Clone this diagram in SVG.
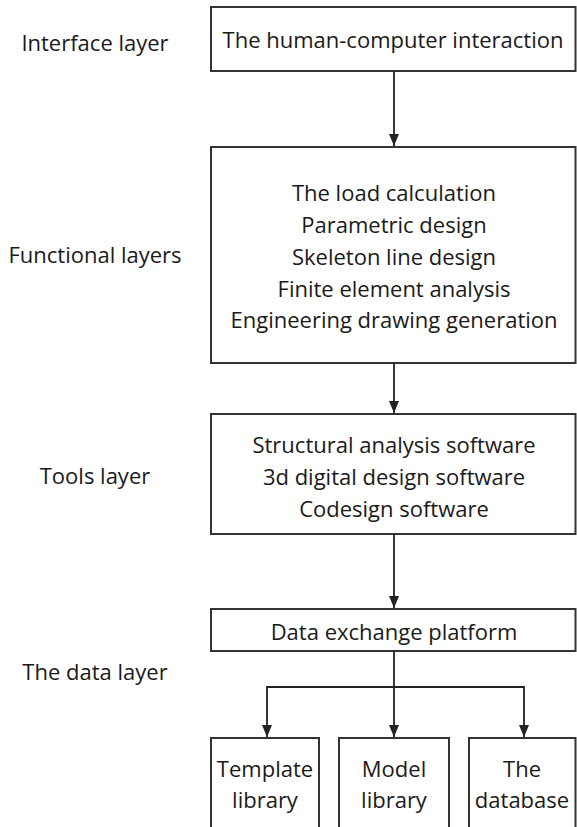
<svg xmlns="http://www.w3.org/2000/svg" width="577" height="827" viewBox="0 0 577 827">
<defs>
<marker id="ah" markerWidth="12" markerHeight="10" refX="12" refY="5" orient="auto" markerUnits="userSpaceOnUse" viewBox="0 0 12 10">
<path d="M0,0 L12,5 L0,10 Z" fill="#222"/>
</marker>
</defs>
<style>
.box{fill:#fff;stroke:#333;stroke-width:2}
.t{font-family:"Open Sans","Noto Sans",sans-serif;font-size:22px;fill:#1a1a1a;text-anchor:middle}
.c{stroke:#222;stroke-width:1.8;fill:none}
</style>
<rect width="577" height="827" fill="#fff"/>
<g id="labels">
<text class="t" x="95" y="51">Interface layer</text>
<text class="t" x="95" y="263">Functional layers</text>
<text class="t" x="95" y="484">Tools layer</text>
<text class="t" x="95" y="680">The data layer</text>
</g>
<g id="interface">
<rect class="box" x="211" y="7" width="364.5" height="64"/>
<text class="t" x="393" y="48">The human-computer interaction</text>
</g>
<g id="functional">
<rect class="box" x="211" y="147" width="364.5" height="216"/>
<text class="t" x="394" y="201">The load calculation</text>
<text class="t" x="394" y="233">Parametric design</text>
<text class="t" x="394" y="265">Skeleton line design</text>
<text class="t" x="394" y="297">Finite element analysis</text>
<text class="t" x="394" y="328">Engineering drawing generation</text>
</g>
<g id="tools">
<rect class="box" x="211" y="414" width="364.5" height="120"/>
<text class="t" x="394" y="453">Structural analysis software</text>
<text class="t" x="394" y="485">3d digital design software</text>
<text class="t" x="394" y="517">Codesign software</text>
</g>
<g id="exchange">
<rect class="box" x="211" y="609" width="364.5" height="42"/>
<text class="t" x="394" y="640">Data exchange platform</text>
</g>
<g id="template">
<path class="box" d="M211,830 V738 H319 V830"/>
<text class="t" x="265" y="777">Template</text>
<text class="t" x="265" y="808">library</text>
</g>
<g id="model">
<path class="box" d="M339,830 V738 H449 V830"/>
<text class="t" x="394" y="777">Model</text>
<text class="t" x="394" y="808">library</text>
</g>
<g id="database">
<path class="box" d="M469,830 V738 H575.5 V830"/>
<text class="t" x="522" y="777">The</text>
<text class="t" x="522" y="808">database</text>
</g>
<g id="connectors">
<line class="c" x1="394" y1="71" x2="394" y2="146" marker-end="url(#ah)"/>
<line class="c" x1="394" y1="363" x2="394" y2="413" marker-end="url(#ah)"/>
<line class="c" x1="394" y1="534" x2="394" y2="608" marker-end="url(#ah)"/>
<line class="c" x1="394" y1="651" x2="394" y2="737" marker-end="url(#ah)"/>
<path class="c" d="M394,687 H267 V737" marker-end="url(#ah)"/>
<path class="c" d="M394,687 H524 V737" marker-end="url(#ah)"/>
</g>
</svg>
